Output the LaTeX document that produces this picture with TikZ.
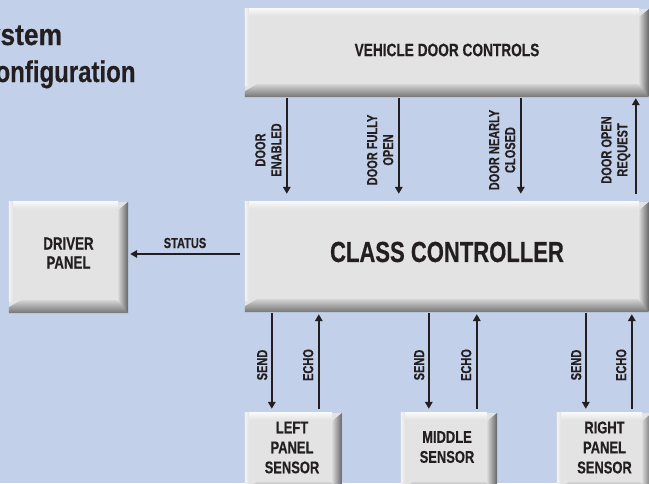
\documentclass[tikz,border=0pt]{standalone}
\usepackage{fontspec}
\newfontfamily\cond{Liberation Sans}[FakeStretch=0.76,FakeBold=0.4]
\newfontfamily\condta{Liberation Sans}[FakeStretch=0.88,FakeBold=0.4]
\newfontfamily\condtb{Liberation Sans}[FakeStretch=0.80,FakeBold=0.4]
\usetikzlibrary{arrows.meta,calc}
\definecolor{bgblue}{HTML}{C3D0E9}
\definecolor{face}{HTML}{E3E3E3}
\definecolor{dark}{HTML}{747474}
\definecolor{txt}{HTML}{231F20}
\newcommand\bevel[1]{%
  \fill[face] (#1.north west) rectangle (#1.south east);
  \shade[top color=white!75!face, bottom color=face] (#1.north west) rectangle ($(#1.north east)+(-10,7)$);
  \shade[left color=white!60!face, right color=face] (#1.north west) rectangle ($(#1.south west)+(4,-12)$);
  \shade[top color=face!85!dark, bottom color=dark] ($(#1.south west)+(0,-6)$) -- ($(#1.south west)+(12,-13)$) -- ($(#1.south east)+(-10,-13)$) -- (#1.south east) -- (#1.south west) -- cycle;
  \shade[left color=face, right color=dark!85!black] ($(#1.north east)+(-11,9)$) -- (#1.north east) -- (#1.south east) -- ($(#1.south east)+(-11,-13)$) -- cycle;
}
\tikzset{
  boxshape/.style={draw=none, inner sep=0pt, rectangle},
  boxtext/.style={inner sep=0pt, align=center, text=txt, font=\cond\bfseries\fontsize{17}{20}\selectfont},
  bigtext/.style={inner sep=0pt, text=txt, font=\cond\bfseries\fontsize{29}{34}\selectfont},
  midtext/.style={inner sep=0pt, text=txt, font=\cond\bfseries\fontsize{18}{20}\selectfont},
  titletext/.style={inner sep=0pt, text=txt, anchor=base west},
  arrlabel/.style={inner sep=0pt, align=center, text=txt, rotate=90, anchor=south, font=\cond\bfseries\fontsize{14.5}{16}\selectfont},
  arr/.style={draw=txt, line width=1.8pt, -{Triangle[length=7pt,width=7.5pt]}},
}
\begin{document}
\begin{tikzpicture}[x=1pt,y=-1pt]
\useasboundingbox (0,0) rectangle (649,483);
\fill[bgblue] (0,0) rectangle (649,483);
\clip (0,0) rectangle (649,483);

% title (cropped at the left edge, as in the reference)
\node[titletext, font=\condta\bfseries\fontsize{30}{37}\selectfont] (title1) at (-32,45) {System};
\node[titletext, font=\condtb\bfseries\fontsize{30}{37}\selectfont] (title2) at (-22,82) {Configuration};

% boxes
\node[boxshape, minimum width=404pt, minimum height=88pt] (vdc) at (447,53) {};
\bevel{vdc}
\node[boxshape, minimum width=404pt, minimum height=110pt] (cc) at (447,257) {};
\bevel{cc}
\node[boxshape, minimum width=119pt, minimum height=111pt] (dp) at (68.5,257.5) {};
\bevel{dp}
\node[boxshape, minimum width=97pt, minimum height=82pt] (ls) at (293.5,454) {};
\bevel{ls}
\node[boxshape, minimum width=96pt, minimum height=82pt] (ms) at (449,454) {};
\bevel{ms}
\node[boxshape, minimum width=95pt, minimum height=82pt] (rs) at (604.5,454) {};
\bevel{rs}

% box texts
\node[midtext] (vdct) at (447,50) {VEHICLE DOOR CONTROLS};
\node[bigtext] (cct) at (447,252) {CLASS CONTROLLER};
\node[boxtext, font=\cond\bfseries\fontsize{17.5}{19}\selectfont] (dpt) at (68.5,253) {DRIVER\\PANEL};
\node[boxtext] (lst) at (292,447.5) {LEFT\\PANEL\\SENSOR};
\node[boxtext] (mst) at (447,447) {MIDDLE\\SENSOR};
\node[boxtext] (rst) at (604.5,447.5) {RIGHT\\PANEL\\SENSOR};

% top arrows
\draw[arr] ($(vdc.south west)+(42,1)$) -- ($(cc.north west)+(42,-8)$);
\draw[arr] ($(vdc.south west)+(154,1)$) -- ($(cc.north west)+(154,-8)$);
\draw[arr] ($(vdc.south west)+(276,1)$) -- ($(cc.north west)+(276,-8)$);
\draw[arr] ($(cc.north west)+(391,-8)$) -- ($(vdc.south west)+(391,1)$);
\node[arrlabel] (l1) at (281.5,150) {DOOR\\ENABLED};
\node[arrlabel] (l2) at (393.5,150) {DOOR FULLY\\OPEN};
\node[arrlabel] (l3) at (515.5,150) {DOOR NEARLY\\CLOSED};
\node[arrlabel] (l4) at (630.5,150) {DOOR OPEN\\REQUEST};

% status
\draw[arr] ($(cc.west)+(-5,-3)$) -- ($(dp.east)+(2,-3.5)$);
\node[inner sep=0pt, text=txt, font=\cond\bfseries\fontsize{14.5}{16}\selectfont, anchor=base] (st) at (185,248) {STATUS};

% bottom arrows
\draw[arr] ($(cc.south west)+(27,1)$) -- ($(ls.north west)+(27,-4)$);
\draw[arr] ($(ls.north west)+(74,-4)$) -- ($(cc.south west)+(74,2)$);
\draw[arr] ($(cc.south west)+(184,1)$) -- ($(ms.north west)+(28,-4)$);
\draw[arr] ($(ms.north west)+(76,-4)$) -- ($(cc.south west)+(232,2)$);
\draw[arr] ($(cc.south west)+(341,1)$) -- ($(rs.north west)+(29,-4)$);
\draw[arr] ($(rs.north west)+(75,-4)$) -- ($(cc.south west)+(387,2)$);
\node[arrlabel] (s1) at (267.5,365) {SEND};
\node[arrlabel] (e1) at (313.5,365) {ECHO};
\node[arrlabel] (s2) at (424.5,365) {SEND};
\node[arrlabel] (e2) at (471.5,365) {ECHO};
\node[arrlabel] (s3) at (581.5,365) {SEND};
\node[arrlabel] (e3) at (626.5,365) {ECHO};
\end{tikzpicture}
\end{document}
